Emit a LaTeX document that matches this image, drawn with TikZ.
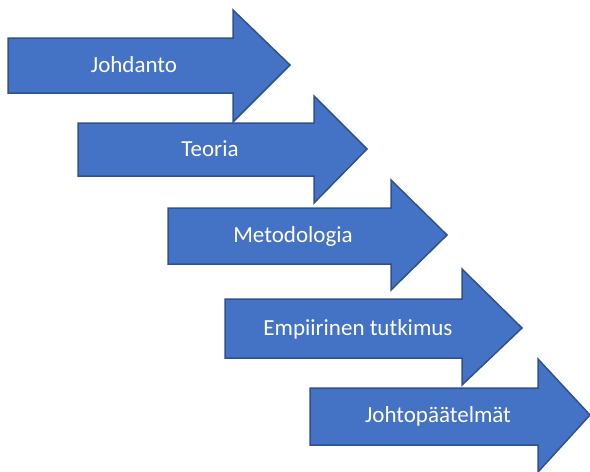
\documentclass[tikz,border=0pt]{standalone}
\usepackage{fontspec}
\setmainfont{Carlito}
\definecolor{arrowfill}{HTML}{4472C4}
\definecolor{arrowline}{HTML}{2F528F}
\begin{document}
\begin{tikzpicture}[x=1pt,y=-1pt,
  stepshape/.style={fill=arrowfill,draw=arrowline,line width=1.5pt,line join=miter},
  steplabel/.style={text=white,inner sep=0pt,anchor=base,font=\fontsize{23}{27}\selectfont}]
\useasboundingbox (0,0) rectangle (590,472);
% each step: body left/top/bottom, head base x, head top/bottom, tip x/y, label x, label
\foreach \n/\l/\t/\b/\h/\ht/\hb/\tx/\ty/\cx/\lab in {
  1/8/38/93/233/10/122/290/65/134/Johdanto,
  2/78/123/176/314/96/203/367/149/210/Teoria,
  3/168/208/264/391/180/290/447/235/293/Metodologia,
  4/225/299/358/462/269/385/522/328/358/Empiirinen tutkimus,
  5/310/388/445/538/359/472/590/415/438/Johtopäätelmät}{
  \path[stepshape] (\l,\t) -- (\h,\t) -- (\h,\ht) -- (\tx,\ty) -- (\h,\hb) -- (\h,\b) -- (\l,\b) -- cycle;
  \node[steplabel] (step\n) at (\cx,\ty+7.5) {\lab};
}
\end{tikzpicture}
\end{document}
